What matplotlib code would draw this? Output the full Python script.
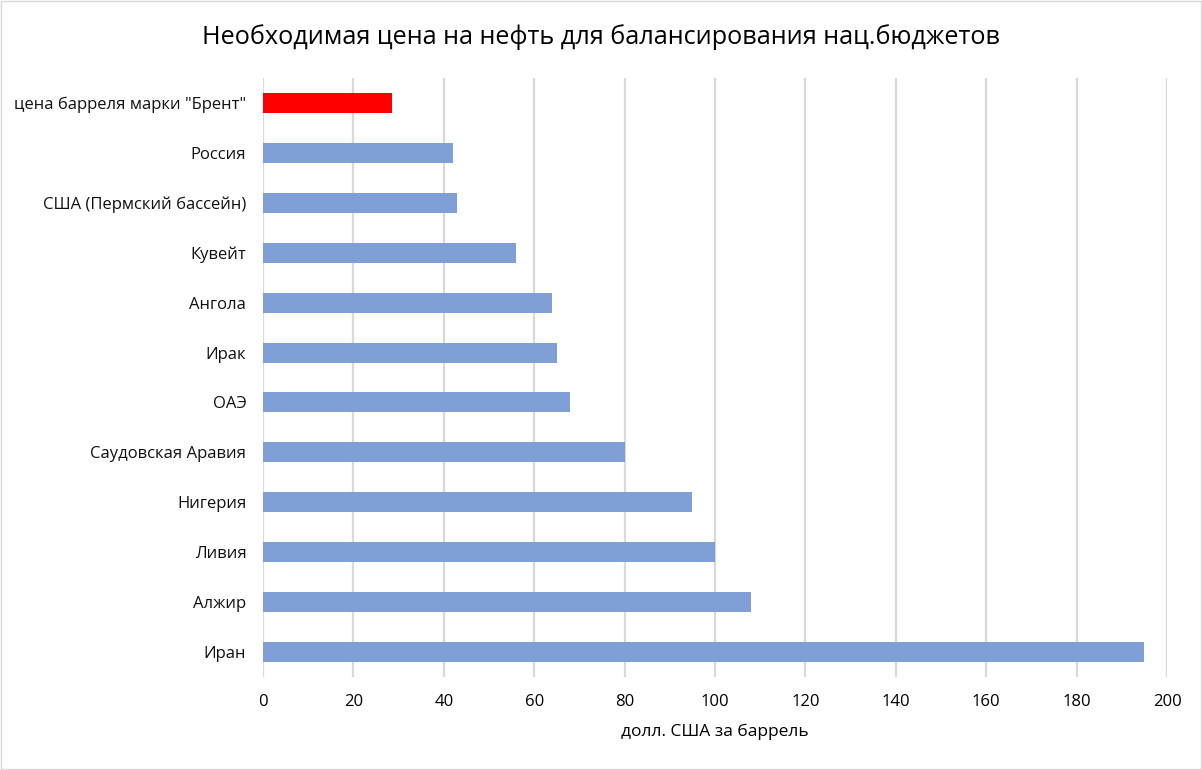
import matplotlib.pyplot as plt
from matplotlib.patches import Rectangle

plt.rcParams['font.family'] = ['Open Sans', 'DejaVu Sans']

# Data (top to bottom as in the chart)
categories = ['цена барреля марки "Брент"', 'Россия', 'США (Пермский бассейн)', 'Кувейт',
              'Ангола', 'Ирак', 'ОАЭ', 'Саудовская Аравия', 'Нигерия', 'Ливия',
              'Алжир', 'Иран']
prices = [28.5, 42, 43, 56, 64, 65, 68, 80, 95, 100, 108, 195]
bar_colors = ['#ff0000'] + ['#7f9fd6'] * (len(categories) - 1)
xticks = [0, 20, 40, 60, 80, 100, 120, 140, 160, 180, 200]

fig = plt.figure(figsize=(12.02, 7.70), dpi=100)
ax = fig.add_axes([263 / 1202, 1 - 677 / 770, (1167 - 263) / 1202, (677 - 78) / 770])

ypos = list(range(len(categories)))
ax.barh(ypos, prices, height=0.4, color=bar_colors, zorder=3)
ax.set_ylim(len(categories) - 0.5, -0.5)
ax.set_xlim(0, 200)
ax.set_xticks(xticks)
ax.set_yticks(ypos)
ax.set_yticklabels(categories, fontsize=12)
ax.tick_params(axis='x', labelsize=12, length=0, pad=12)
ax.tick_params(axis='y', length=0, pad=12, labelcolor='#111111')
ax.grid(axis='x', color='#d9d9d9', linewidth=1.6, zorder=0)
for s in ax.spines.values():
    s.set_visible(False)

ax.set_xlabel('долл. США за баррель', fontsize=12.5, labelpad=10)
fig.suptitle('Необходимая цена на нефть для балансирования нац.бюджетов',
             fontsize=18.2, y=0.952, va='center')

fig.patches.append(Rectangle((0.001, 0.001), 0.998, 0.998, transform=fig.transFigure,
                             fill=False, edgecolor='#d9d9d9', linewidth=1))

fig.savefig('out.png', dpi=100, facecolor='white')
